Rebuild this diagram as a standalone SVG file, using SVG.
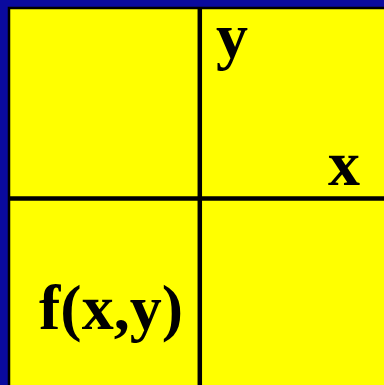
<svg xmlns="http://www.w3.org/2000/svg" width="384" height="385" viewBox="0 0 384 385">
<style>
.lbl{font-family:"Liberation Serif","Times New Roman",serif;font-weight:bold;font-size:64px;fill:#000}
.ln{stroke:#000;stroke-width:4.5;fill:none}
</style>
<rect x="0" y="0" width="384" height="385" fill="#0a0a9e"/>
<rect x="9" y="8" width="380" height="382" fill="#ffff00" stroke="#000" stroke-width="2.5"/>
<g id="grid">
<line class="ln" x1="199.8" y1="9" x2="199.8" y2="385"/>
<line class="ln" x1="9" y1="198.6" x2="384" y2="198.6"/>
</g>
<g id="label-y"><text class="lbl" x="216" y="57">y</text></g>
<g id="label-x"><text class="lbl" x="328" y="185">x</text></g>
<g id="label-f"><text class="lbl" x="39" y="329">f(x,y)</text></g>
</svg>
